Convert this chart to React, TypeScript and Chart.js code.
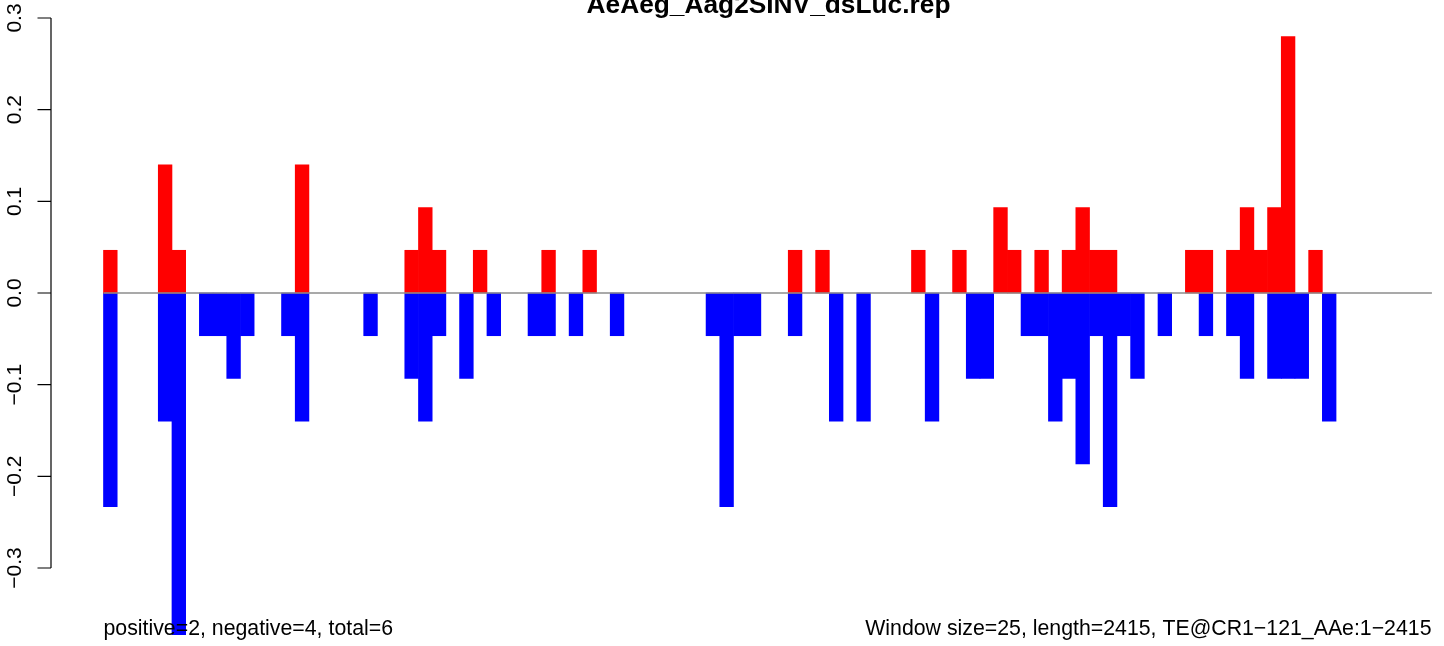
import React, { useEffect, useRef } from "react";
import { Chart, registerables } from "chart.js";

Chart.register(...registerables);

const TITLE = "AeAeg_Aag2SINV_dsLuc.rep";
const FOOT_LEFT = "positive=2, negative=4, total=6";
const FOOT_RIGHT = "Window size=25, length=2415, TE@CR1\u2212121_AAe:1\u22122415";

// positive-strand signal per 25-nt window (97 windows)
const positiveValues: number[] = [
  0.0466, 0, 0, 0, 0.1398, 0.0466, 0, 0, 0, 0,
  0, 0, 0, 0, 0.1398, 0, 0, 0, 0, 0,
  0, 0, 0.0466, 0.0932, 0.0466, 0, 0, 0.0466, 0, 0,
  0, 0, 0.0466, 0, 0, 0.0466, 0, 0, 0, 0,
  0, 0, 0, 0, 0, 0, 0, 0, 0, 0,
  0.0466, 0, 0.0466, 0, 0, 0, 0, 0, 0, 0.0466,
  0, 0, 0.0466, 0, 0, 0.0932, 0.0466, 0, 0.0466, 0,
  0.0466, 0.0932, 0.0466, 0.0466, 0, 0, 0, 0, 0, 0.0466,
  0.0466, 0, 0.0466, 0.0932, 0.0466, 0.0932, 0.2796, 0, 0.0466, 0,
  0, 0, 0, 0, 0, 0, 0,
];

// negative-strand signal per window
const negativeValues: number[] = [
  -0.233, 0, 0, 0, -0.1398, -0.3728, 0, -0.0466, -0.0466, -0.0932,
  -0.0466, 0, 0, -0.0466, -0.1398, 0, 0, 0, 0, -0.0466,
  0, 0, -0.0932, -0.1398, -0.0466, 0, -0.0932, 0, -0.0466, 0,
  0, -0.0466, -0.0466, 0, -0.0466, 0, 0, -0.0466, 0, 0,
  0, 0, 0, 0, -0.0466, -0.233, -0.0466, -0.0466, 0, 0,
  -0.0466, 0, 0, -0.1398, 0, -0.1398, 0, 0, 0, 0,
  -0.1398, 0, 0, -0.0932, -0.0932, 0, 0, -0.0466, -0.0466, -0.1398,
  -0.0932, -0.1864, -0.0466, -0.233, -0.0466, -0.0932, 0, -0.0466, 0, 0,
  -0.0466, 0, -0.0466, -0.0932, 0, -0.0932, -0.0932, -0.0932, 0, -0.1398,
  0, 0, 0, 0, 0, 0, 0,
];

const yTickValues: number[] = [-0.3, -0.2, -0.1, 0.0, 0.1, 0.2, 0.3];
const yTickLabels: string[] = ["\u22120.3", "\u22120.2", "\u22120.1", "0.0", "0.1", "0.2", "0.3"];

const FONT = "'Liberation Sans', Arial, Helvetica, sans-serif";

export default function App() {
  const ref = useRef<HTMLCanvasElement | null>(null);

  useEffect(() => {
    const canvas = ref.current;
    if (!canvas) return;
    const windows = positiveValues.map((_, i) => i);

    const rPlot = {
      id: "rPlot",
      afterDatasetsDraw(chart: any) {
        const { ctx } = chart;
        const xs = chart.scales.x;
        const ys = chart.scales.y;
        const y0 = ys.getPixelForValue(0);
        ctx.save();
        ctx.strokeStyle = "#8c8c8c";
        ctx.lineWidth = 1.3;
        ctx.beginPath();
        ctx.moveTo(xs.getPixelForValue(-0.5), y0);
        ctx.lineTo(xs.getPixelForValue(windows.length - 0.5), y0);
        ctx.stroke();
        ctx.restore();
      },
      afterDraw(chart: any) {
        const { ctx, chartArea } = chart;
        const ys = chart.scales.y;
        const ax = chartArea.left;
        ctx.save();
        ctx.strokeStyle = "#000";
        ctx.lineWidth = 1.2;
        ctx.beginPath();
        ctx.moveTo(ax, ys.getPixelForValue(yTickValues[0]));
        ctx.lineTo(ax, ys.getPixelForValue(yTickValues[yTickValues.length - 1]));
        yTickValues.forEach((v) => {
          const py = ys.getPixelForValue(v);
          ctx.moveTo(ax, py);
          ctx.lineTo(ax - 13.5, py);
        });
        ctx.stroke();

        ctx.fillStyle = "#000";
        ctx.font = `21px ${FONT}`;
        ctx.textAlign = "center";
        ctx.textBaseline = "alphabetic";
        yTickValues.forEach((v, i) => {
          const py = ys.getPixelForValue(v);
          ctx.save();
          ctx.translate(20.5, py);
          ctx.rotate(-Math.PI / 2);
          ctx.fillText(yTickLabels[i], 0, 0);
          ctx.restore();
        });

        ctx.font = `bold 26.3px ${FONT}`;
        ctx.textAlign = "center";
        ctx.fillText(TITLE, 768.5, 13);

        ctx.font = `21.3px ${FONT}`;
        ctx.textAlign = "left";
        ctx.fillText(FOOT_LEFT, 103.5, 634.5);
        ctx.textAlign = "right";
        ctx.fillText(FOOT_RIGHT, 1431.5, 634.5);
        ctx.restore();
      },
    };

    const toPoints = (vals: number[]) =>
      windows.map((w) => ({ x: w, y: vals[w] === 0 ? null : vals[w] }));

    const chart = new Chart(canvas, {
      type: "bar",
      data: {
        datasets: [
          {
            label: "positive",
            data: toPoints(positiveValues),
            backgroundColor: "#ff0000",
            borderWidth: 0,
            barPercentage: 1,
            categoryPercentage: 1,
            grouped: false,
          },
          {
            label: "negative",
            data: toPoints(negativeValues),
            backgroundColor: "#0000ff",
            borderWidth: 0,
            barPercentage: 1,
            categoryPercentage: 1,
            grouped: false,
          },
        ],
      },
      options: {
        responsive: false,
        animation: false,
        devicePixelRatio: 1,
        layout: { padding: { left: 51, right: 11, top: 0, bottom: 0 } },
        plugins: { legend: { display: false }, tooltip: { enabled: false }, title: { display: false } },
        scales: {
          x: { type: "linear", display: false, offset: false, min: -4.3335, max: 96.58 },
          y: { type: "linear", display: false, min: -0.38509, max: 0.31964 },
        },
      },
      plugins: [rPlot],
    });
    return () => chart.destroy();
  }, []);

  return (
    <div style={{ position: "fixed", left: 0, top: 0, width: 1444, height: 646, background: "#fff" }}>
      <canvas ref={ref} width={1444} height={646} style={{ display: "block" }} />
    </div>
  );
}
